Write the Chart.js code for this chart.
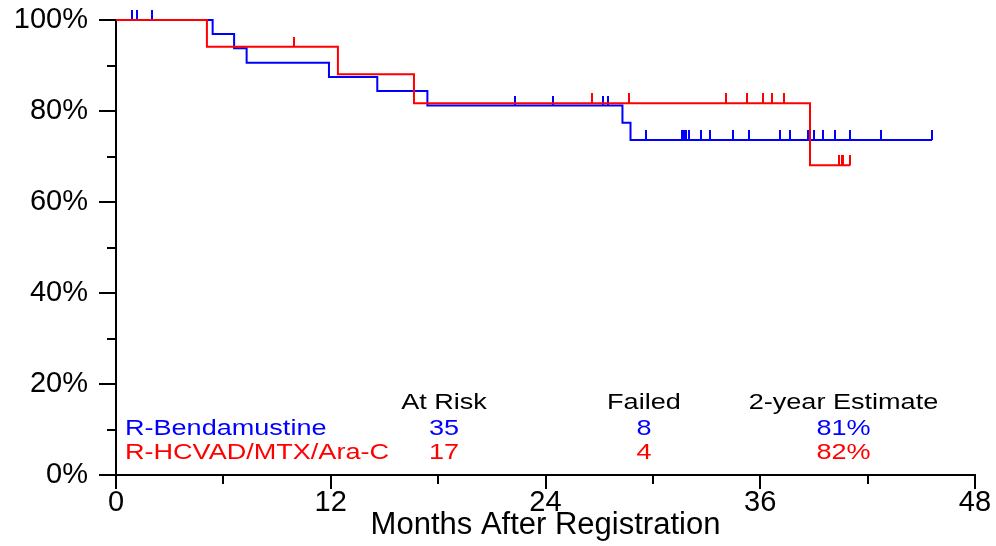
<!DOCTYPE html>
<html>
<head>
<meta charset="utf-8">
<script src="https://cdn.jsdelivr.net/npm/chart.js@4/dist/chart.umd.min.js"></script>
<style>
  html, body { margin: 0; padding: 0; background: #fff; }
  #chartdiv { display: block; }
</style>
</head>
<body>
<canvas id="chartdiv" width="996" height="546"></canvas>
<script>
// Kaplan-Meier steps (months, % event free)
const blueTimes = [0, 5.4, 6.6, 7.3, 11.9, 14.6, 17.4, 28.3, 28.75, 45.6]
const blueSurv  = [100, 96.9, 93.8, 90.6, 87.5, 84.4, 81.2, 77.4, 73.6, 73.6]
const redTimes  = [0, 5.08, 12.4, 16.65, 38.78, 41.03]
const redSurv   = [100, 94.1, 88.1, 81.7, 68.1, 68.1]

// censoring marks (months)
const blueCensored = [0.9, 1.2, 2.0, 22.3, 24.4, 27.2, 27.5, 29.6, 31.6, 31.75, 31.85, 32.0,
                      32.7, 33.2, 34.45, 35.35, 37.1, 37.65, 38.65, 39.0, 39.5, 40.2, 41.0, 42.75, 45.6]
const redCensored  = [9.95, 26.6, 28.65, 34.1, 35.25, 36.15, 36.65, 37.3, 40.4, 40.55, 40.65, 41.03]

// summary table
const groups = ['R-Bendamustine', 'R-HCVAD/MTX/Ara-C']
const groupColors = ['#0000ff', '#ff0000']
const tableHeaders = ['At Risk', 'Failed', '2-year Estimate']
const atRisk = [35, 17]
const failed = [8, 4]
const estimate2yr = ['81%', '82%']

const xTicks = [0, 12, 24, 36, 48]
const yTicks = [0, 20, 40, 60, 80, 100]

const FONT = '"Liberation Sans", Arial, Helvetica, sans-serif'

function stepPoints(times, surv){
    return times.map(function(t, i){ return {x: t, y: surv[i]} })
}

// value of the step curve at time t
function survAt(times, surv, t){
    let v = surv[0]
    for (let i = 0; i < times.length; i++){
        if (times[i] <= t) v = surv[i]
    }
    return v
}

function censorPoints(cens, times, surv){
    return cens.map(function(t){ return {x: t, y: survAt(times, surv, t)} })
}

// small vertical tick sitting on top of the curve
function censorMark(color){
    const c = document.createElement('canvas')
    c.width = 2
    c.height = 20
    const g = c.getContext('2d')
    g.fillStyle = color
    g.fillRect(0, 0, 2, 10)
    return c
}

function stretchText(ctx, text, x, y, align, color){
    ctx.save()
    ctx.translate(x, y)
    ctx.scale(1.23, 1)
    ctx.textAlign = align
    ctx.textBaseline = 'alphabetic'
    ctx.fillStyle = color
    ctx.fillText(text, 0, 0)
    ctx.restore()
}

const axisTicks = {
    id: 'axisTicks',
    afterDraw(chart){
        const ctx = chart.ctx
        const xs = chart.scales.x
        const ys = chart.scales.y
        const area = chart.chartArea
        ctx.save()
        ctx.strokeStyle = '#000'
        ctx.lineWidth = 2
        ctx.beginPath()
        for (let v = 0; v <= 100; v += 10){
            const py = Math.round(ys.getPixelForValue(v))
            const len = v % 20 === 0 ? 17 : 9
            ctx.moveTo(area.left - len, py)
            ctx.lineTo(area.left, py)
        }
        for (let m = 0; m <= 48; m += 6){
            const px = Math.round(xs.getPixelForValue(m))
            const len = m % 12 === 0 ? 14 : 9
            ctx.moveTo(px, area.bottom)
            ctx.lineTo(px, area.bottom + len)
        }
        ctx.stroke()

        // at risk / failed / estimate table
        ctx.font = '22px ' + FONT
        const cols = [18.33, 29.5, 40.65]
        const rows = [14.4, 8.9, 3.6]
        tableHeaders.forEach(function(h, i){
            stretchText(ctx, h, xs.getPixelForValue(cols[i]), ys.getPixelForValue(rows[0]), 'center', '#000')
        })
        groups.forEach(function(g, r){
            const py = ys.getPixelForValue(rows[r + 1])
            const col = groupColors[r]
            stretchText(ctx, g, xs.getPixelForValue(0.5), py, 'left', col)
            stretchText(ctx, String(atRisk[r]), xs.getPixelForValue(cols[0]), py, 'center', col)
            stretchText(ctx, String(failed[r]), xs.getPixelForValue(cols[1]), py, 'center', col)
            stretchText(ctx, estimate2yr[r], xs.getPixelForValue(cols[2]), py, 'center', col)
        })
        ctx.restore()
    }
}

Chart.defaults.font.family = FONT
Chart.defaults.color = '#000'

const datasets = [
    {
        type: 'line',
        label: groups[1],
        data: stepPoints(redTimes, redSurv),
        stepped: true,
        borderColor: groupColors[1],
        borderWidth: 2,
        pointRadius: 0,
        fill: false,
        clip: false,
        order: 0
    },
    {
        type: 'scatter',
        label: groups[1] + ' censored',
        data: censorPoints(redCensored, redTimes, redSurv),
        pointStyle: censorMark(groupColors[1]),
        clip: false,
        order: 1
    },
    {
        type: 'line',
        label: groups[0],
        data: stepPoints(blueTimes, blueSurv),
        stepped: true,
        borderColor: groupColors[0],
        borderWidth: 2,
        pointRadius: 0,
        fill: false,
        clip: false,
        order: 2
    },
    {
        type: 'scatter',
        label: groups[0] + ' censored',
        data: censorPoints(blueCensored, blueTimes, blueSurv),
        pointStyle: censorMark(groupColors[0]),
        clip: false,
        order: 3
    }
]

const myChart = new Chart(document.getElementById('chartdiv').getContext('2d'), {
    type: 'line',
    data: {datasets: datasets},
    options: {
        responsive: false,
        animation: false,
        events: [],
        layout: {padding: {top: 20, right: 21, bottom: 0, left: 0}},
        plugins: {legend: {display: false}, tooltip: {enabled: false}},
        scales: {
            x: {
                type: 'linear',
                min: 0,
                max: 48,
                afterBuildTicks: function(scale){ scale.ticks = xTicks.map(function(v){ return {value: v} }) },
                afterFit: function(scale){
                    scale.height = 71
                    scale.paddingLeft = 0
                    scale.paddingRight = 0
                },
                ticks: {font: {size: 29}, padding: 11, maxRotation: 0, color: '#000'},
                grid: {display: false, drawTicks: false, tickLength: 0},
                border: {display: true, color: '#000', width: 2},
                title: {display: true, text: 'Months After Registration', font: {size: 31},
                        color: '#000', padding: {top: 0, bottom: 2}}
            },
            y: {
                min: 0,
                max: 100,
                afterBuildTicks: function(scale){ scale.ticks = yTicks.map(function(v){ return {value: v} }) },
                afterFit: function(scale){
                    scale.width = 116
                    scale.paddingTop = 0
                    scale.paddingBottom = 0
                },
                ticks: {font: {size: 29}, padding: 28, color: '#000',
                        callback: function(v){ return v + '%' }},
                grid: {display: false, drawTicks: false, tickLength: 0},
                border: {display: true, color: '#000', width: 2}
            }
        }
    },
    plugins: [axisTicks]
})
</script>
</body>
</html>
